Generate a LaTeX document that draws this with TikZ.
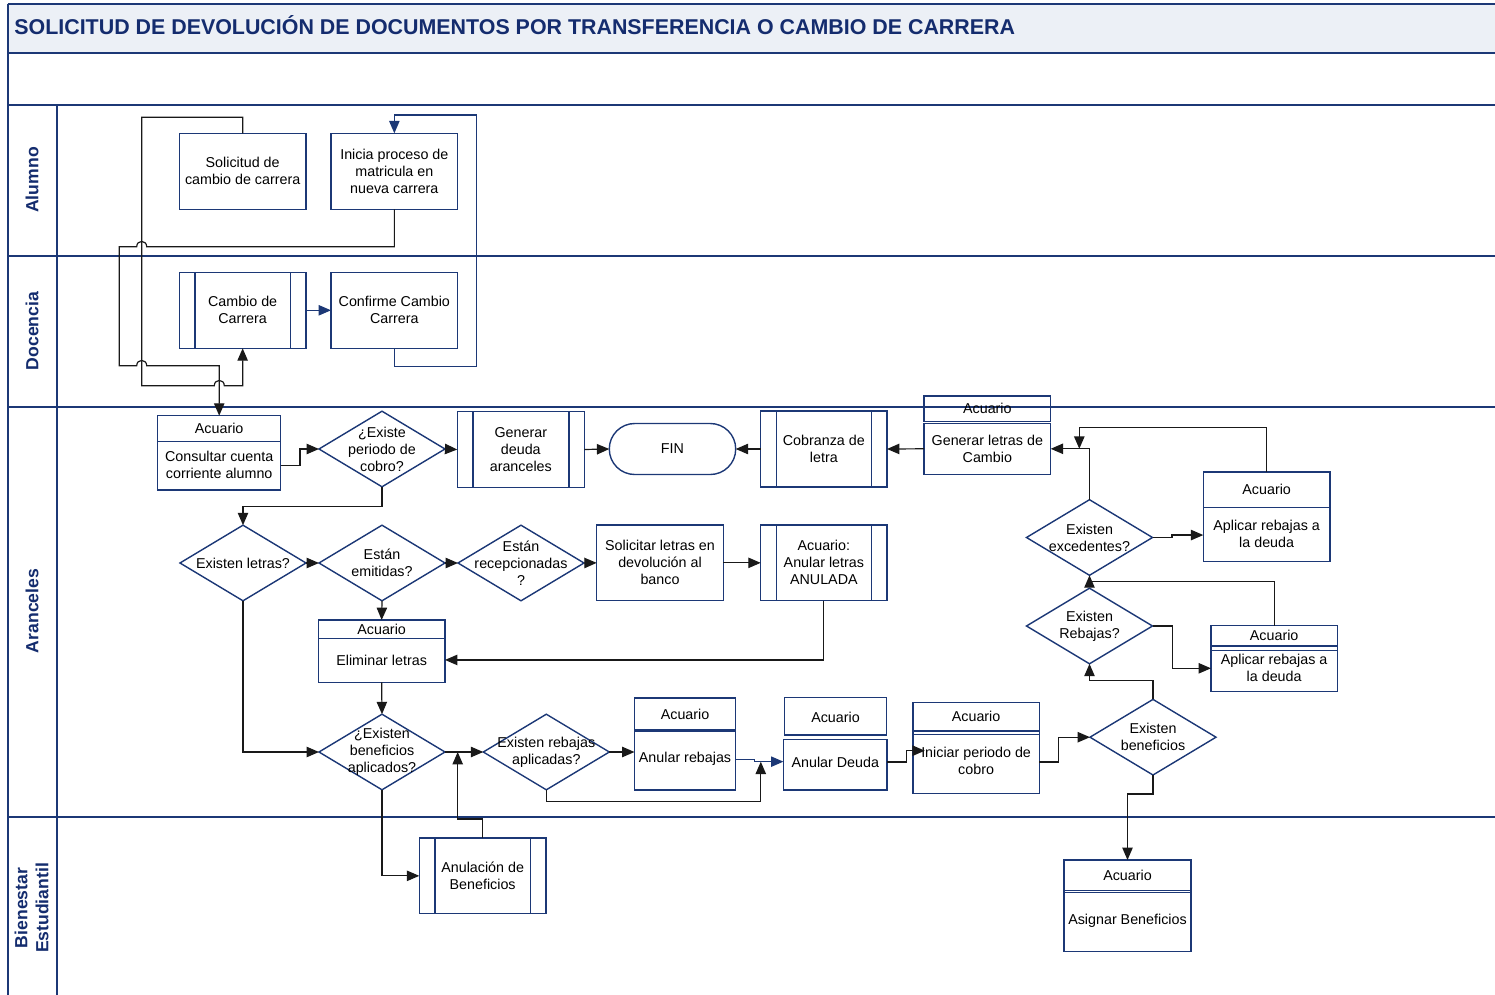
\documentclass[tikz,border=0pt]{standalone}
\usepackage{fontspec}
\setmainfont{Liberation Sans}
\usetikzlibrary{arrows.meta,shapes.geometric,fit}
\definecolor{navy}{RGB}{28,56,118}
\definecolor{lanecol}{RGB}{20,44,110}
\definecolor{titlebg}{RGB}{236,240,246}
\definecolor{lnk}{RGB}{25,25,25}
\newcommand\fsz{\fontsize{7.15pt}{8.5pt}\selectfont}
\newcommand\mybox[6]{%
  \node[shp, fit={(#2,#3) (#4,#5)}] (#1) {};
  \node[txt] at ({(#2+#4)/2},{(#3+#5)/2}) {#6};}
\newcommand\mysub[6]{%
  \mybox{#1}{#2}{#3}{#4}{#5}{#6}%
  \draw[shpl] ({#2+15.5},#3) -- ({#2+15.5},#5) ({#4-15.5},#3) -- ({#4-15.5},#5);}
\newcommand\myacu[8]{%
  \node[shp, fit={(#2,#3) (#4,#5)}] (#1) {};
  \draw[shpl] (#2,#6) -- (#4,#6);
  \node[txt] at ({(#2+#4)/2},{(#3+#6)/2}) {Acuario};
  \node[txt] at ({(#2+#4)/2},#7) {#8};}
\newcommand\mydia[4]{%
  \node[shp, diamond, minimum width=63pt, minimum height=37.8pt] (#1) at (#2,#3) {};
  \node[txt] at (#1) {#4};}
\tikzset{
  shp/.style={draw=navy, line width=0.7pt, inner sep=0pt, outer sep=0pt},
  shpl/.style={draw=navy, line width=0.7pt},
  txt/.style={font=\fsz, align=center, inner sep=0pt, text=black},
  conn/.style={draw=lnk, line width=0.6pt, -{Triangle[length=6.2pt,width=5.2pt]}},
  nconn/.style={conn, draw=navy},
  lane/.style={draw=navy, line width=1.1pt},
  lanelbl/.style={rotate=90, font=\bfseries\fontsize{8.8pt}{10.5pt}\selectfont, text=lanecol, align=center, inner sep=0pt}
}
\begin{document}
\begin{tikzpicture}[x=0.5pt,y=-0.5pt]
\useasboundingbox (0,0) rectangle (1495,995);
% frame and lanes
\fill[titlebg] (7.7,4) rectangle (1495,53.3);
\draw[lane] (7.7,4) -- (1495,4) (7.7,53.3) -- (1495,53.3) (7.7,105) -- (1495,105)
  (7.7,255.7) -- (1495,255.7) (7.7,407.3) -- (1495,407.3) (7.7,816.7) -- (1495,816.7);
\draw[lane] (7.7,4) -- (7.7,995) (57.3,105) -- (57.3,995);
\node[anchor=base west, inner sep=0pt, font=\bfseries\fontsize{10.7pt}{12pt}\selectfont, text=lanecol] (title) at (14,35)
  {SOLICITUD DE DEVOLUCIÓN DE DOCUMENTOS POR TRANSFERENCIA O CAMBIO DE CARRERA};
\node[lanelbl] (lalu) at (32,180) {Alumno};
\node[lanelbl] (ldoc) at (32,331) {Docencia};
\node[lanelbl] (lara) at (32,611) {Aranceles};
\node[lanelbl] (lbie) at (31.5,908) {Bienestar\\Estudiantil};

% Alumno / Docencia
\mybox{sol}{179.3}{133.3}{306}{209.3}{Solicitud de\\cambio de carrera}
\mybox{ini}{331}{133.3}{457.7}{209.3}{Inicia proceso de\\matricula en\\nueva carrera}
\mysub{cam}{179.3}{272.3}{306}{348.3}{Cambio de\\Carrera}
\mybox{conf}{331}{272.3}{457.7}{348.3}{Confirme Cambio\\Carrera}

% Aranceles
\myacu{cons}{157.7}{415.7}{280.7}{490}{441.7}{465}{Consultar cuenta\\corriente alumno}
\mydia{d1}{382}{449}{¿Existe\\periodo de\\cobro?}
\mysub{gd}{457.3}{411.7}{584.3}{487.3}{Generar\\deuda\\aranceles}
\node[shp, rounded corners=12.7pt, minimum width=63.2pt, minimum height=25.5pt, font=\fsz] (fin) at (672.5,449) {FIN};
\mysub{cob}{760.7}{411}{887}{487}{Cobranza de\\letra}
\node[shp, fit={(924,396) (1050.7,421.7)}] (glh) {};
\node[txt] at (glh) {Acuario};
\mybox{gl}{924}{423.3}{1050.7}{474.3}{Generar letras de\\Cambio}
\mydia{exc}{1089.5}{537.5}{Existen\\excedentes?}
\myacu{ap1}{1203.3}{472}{1330}{561.7}{507.7}{534}{Aplicar rebajas a\\la deuda}
\mydia{reb}{1089.5}{626}{Existen\\Rebajas?}
\myacu{ap2}{1211}{625.7}{1337.3}{691.7}{646}{668}{Aplicar rebajas a\\la deuda}
\draw[shpl] (1211,650.7) -- (1337.3,650.7);
\mydia{lt}{243}{563}{Existen letras?}
\mydia{em}{382}{563}{Están\\emitidas?}
\mydia{rc}{521}{563}{Están\\recepcionadas\\?}
\mybox{sl}{596.7}{525}{723.3}{600.7}{Solicitar letras en\\devolución al\\banco}
\mysub{al}{760.7}{525}{887}{600.7}{Acuario:\\Anular letras\\ANULADA}
\myacu{el}{318.3}{620}{445}{682.3}{638.7}{660}{Eliminar letras}
\mydia{ba}{382}{752}{¿Existen\\beneficios\\aplicados?}
\mydia{ra}{546.3}{752}{Existen rebajas\\aplicadas?}
\myacu{ar}{634.5}{698}{735.6}{790}{730}{758.7}{Anular rebajas}
\draw[shpl] (634.5,731.5) -- (735.6,731.5);
\node[shp, fit={(784.6,697.3) (886.4,735)}] (adh) {};
\node[txt] at (835.5,717.5) {Acuario};
\node[shp, fit={(783.4,739.3) (887.1,790)}] (ad) {};
\node[txt] at (835.3,762) {Anular Deuda};
\myacu{ip}{912.8}{702.3}{1039.4}{793.3}{731}{761}{Iniciar periodo de\\cobro}
\draw[shpl] (912.8,734.3) -- (1039.4,734.3);
\mydia{ben}{1153}{737.2}{Existen\\beneficios}

% Bienestar
\mysub{anb}{419.3}{838}{546}{913.7}{Anulación de\\Beneficios}
\myacu{asg}{1064}{860}{1191}{951.7}{890.7}{920.7}{Asignar Beneficios}
\draw[shpl] (1064,892.7) -- (1191,892.7);

% junction points
\coordinate (j1) at (1079.3,448.8);
\coordinate (j2) at (457.7,752);
\coordinate (j3) at (760.8,761.7);

% connectors, top lanes
\draw[conn] (sol.north) |- (141.7,117.3) -- (141.7,385.7) -- (214.3,385.7)
  .. controls (214.3,378.7) and (224.3,378.7) .. (224.3,385.7) -| (cam.south);
\draw[conn] (ini.south) |- (146.7,246.7) .. controls (146.7,239.7) and (136.7,239.7) .. (136.7,246.7)
  -| (119.3,365.7) -- (136.7,365.7) .. controls (136.7,358.7) and (146.7,358.7) .. (146.7,365.7)
  -| (cons.north);
\draw[nconn] (cam.east) -- (conf.west);
\draw[nconn] (conf.south) -- ++(0,18.4) -| (476.7,115) -| (ini.north);

% connectors, Aranceles
\draw[conn] ([yshift=-6.4pt]cons.east) -- ++(19.3,0) |- (d1.west);
\draw[conn] (d1.east) -- (gd.west);
\draw[conn] (gd.east) -- (fin.west);
\draw[conn] (cob.west) -- (fin.east);
\draw[conn] (gl.west) -- (cob.east);
\draw[conn] (exc.north) |- (gl.east);
\draw[conn] (ap1.north) -- ++(0,-44.3) -| (j1);
\draw[conn] (exc.east) -- ++(19.4,0) |- ([yshift=-9.1pt]ap1.west);
\draw[conn] (reb.east) -- ++(19.7,0) |- ([yshift=-4.8pt]ap2.west);
\draw[conn] (ap2.north) -- ++(0,-44) -| (exc.south);
\draw[conn] (ben.north) -- ++(0,-19.3) -| (reb.south);
\draw[conn] (d1.south) -- ++(0,19.3) -| (lt.north);
\draw[conn] (lt.east) -- (em.west);
\draw[conn] (em.east) -- (rc.west);
\draw[conn] (rc.east) -- (sl.west);
\draw[conn] (sl.east) -- (al.west);
\draw[conn] (al.south) |- ([yshift=-4.4pt]el.east);
\draw[conn] (em.south) -- (el.north);
\draw[conn] (el.south) -- (ba.north);
\draw[conn] (lt.south) |- (ba.west);
\draw[conn] (ba.east) -- (ra.west);
\draw[conn] (ba.south) |- (anb.west);
\draw[conn] (anb.north) -- ++(0,-19) -| (j2);
\draw[conn] (ra.east) -- ([yshift=-4pt]ar.west);
\draw[conn] (ra.south) -- ++(0,11.7) -| (j3);
\draw[nconn] ([yshift=-7.65pt]ar.east) -- ++(19,0) |- ([yshift=1.5pt]ad.west);
\draw[conn] ([yshift=1.3pt]ad.east) -- ++(19.2,0) |- ([xshift=6pt,yshift=-1.45pt]ip.west);
\draw[conn] ([yshift=-7.1pt]ip.east) -- ++(18.8,0) |- (ben.west);
\draw[conn] (ben.south) -- ++(0,19) -| (asg.north);
\end{tikzpicture}
\end{document}
